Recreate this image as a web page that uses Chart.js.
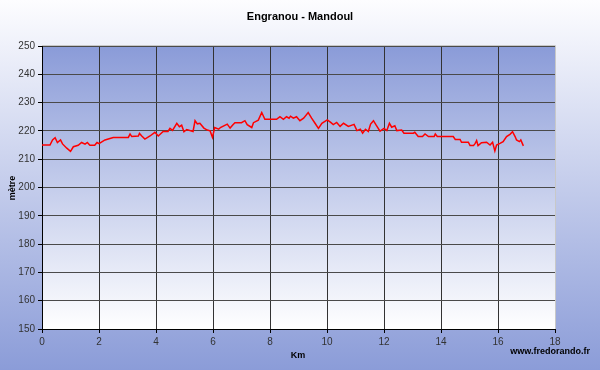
<!DOCTYPE html>
<html>
<head>
<meta charset="utf-8">
<script src="https://cdn.jsdelivr.net/npm/chart.js@4"></script>
<style>
html,body{margin:0;padding:0;background:#fff;}
#wrap{width:600px;height:370px;position:relative;}
</style>
</head>
<body>
<div id="wrap"><canvas id="c" width="600" height="370"></canvas></div>
<script>
const chartTitle = "Engranou - Mandoul";
const xAxisTitle = "Km";
const yAxisTitle = "mètre";
const watermark = "www.fredorando.fr";

const km = [0,0.28,0.37,0.46,0.54,0.65,0.72,0.87,1.0,1.1,1.27,1.39,1.51,1.59,1.68,1.85,1.93,2.0,2.21,2.5,3.03,3.09,3.15,3.38,3.42,3.5,3.61,3.79,3.96,4.08,4.25,4.42,4.49,4.58,4.73,4.82,4.9,4.98,5.08,5.3,5.37,5.45,5.54,5.68,5.8,5.9,5.98,6.06,6.2,6.26,6.5,6.6,6.7,6.77,7.0,7.12,7.2,7.36,7.42,7.59,7.71,7.82,8.23,8.35,8.47,8.58,8.67,8.72,8.82,8.93,9.05,9.18,9.34,9.46,9.58,9.7,9.82,10.01,10.13,10.22,10.34,10.46,10.58,10.75,10.95,11.05,11.17,11.25,11.35,11.45,11.53,11.63,11.72,11.86,12.0,12.1,12.19,12.27,12.38,12.45,12.62,12.7,13.03,13.08,13.2,13.35,13.44,13.56,13.76,13.8,13.87,14.43,14.5,14.67,14.72,14.96,15.02,15.14,15.2,15.25,15.3,15.42,15.6,15.72,15.81,15.89,15.95,16.07,16.18,16.3,16.42,16.51,16.6,16.65,16.75,16.8,16.89];
const elevation = [215,215,216.8,217.6,215.9,216.8,215.4,213.9,212.8,214.4,214.9,215.9,215.3,215.9,214.9,214.9,215.9,215.5,216.8,217.7,217.7,218.9,218,218.2,219.1,218.2,217.1,218.2,219.5,218.2,219.8,219.8,220.9,220.2,222.7,221.5,222,219.7,220.5,219.8,223.6,222.5,222.7,221,220.3,220,217.7,221.2,220.6,221.2,222.4,221,222.2,222.9,222.9,223.6,222.2,221.2,222.9,223.8,226.5,224.1,224.1,225,224.1,225,224.5,225.2,224.5,225,223.6,224.5,226.5,224.5,222.7,220.9,222.7,223.9,223,222.2,223,221.6,222.7,221.6,222.3,220.1,220.6,219.2,220.6,219.8,222.4,223.6,222.1,219.9,220.9,220.1,222.7,221.3,221.8,220.1,220.3,219.2,219.2,219.5,218,218,218.9,218,218,218.9,218,218,217,217,216,216,214.8,214.8,215.6,216.6,214.8,215.8,216,215,216,212.9,215,215.6,216.2,218,218.8,219.7,218,216.8,216.2,216.8,214.7];

const yMin = 150, yMax = 250, yStep = 10;
const xMin = 0, xMax = 18, xStep = 2;

const points = km.map((k, i) => ({x: k, y: elevation[i]}));

const bgPlugin = {
  id: 'bg',
  beforeDraw(chart) {
    const ctx = chart.ctx, a = chart.chartArea;
    ctx.save();
    let g = ctx.createLinearGradient(0, 0, 0, chart.height);
    g.addColorStop(0, '#fdfdff');
    g.addColorStop(1, '#8b9cd8');
    ctx.fillStyle = g;
    ctx.fillRect(0, 0, chart.width, chart.height);
    g = ctx.createLinearGradient(0, a.top, 0, a.bottom);
    g.addColorStop(0, '#8a9bd8');
    g.addColorStop(1, '#ffffff');
    ctx.fillStyle = g;
    ctx.fillRect(a.left, a.top, a.right - a.left, a.bottom - a.top);
    ctx.restore();
  },
  afterDraw(chart) {
    const ctx = chart.ctx, a = chart.chartArea;
    ctx.save();
    ctx.fillStyle = '#000';
    ctx.textAlign = 'center';
    ctx.textBaseline = 'middle';
    ctx.font = 'bold 11px "Liberation Sans", Arial, sans-serif';
    ctx.fillText(chartTitle, 300, 17);
    ctx.font = 'bold 9px "Liberation Sans", Arial, sans-serif';
    ctx.fillText(xAxisTitle, 298, 356);
    ctx.textAlign = 'right';
    ctx.fillText(watermark, 590, 352);
    ctx.translate(13, 188);
    ctx.rotate(-Math.PI / 2);
    ctx.textAlign = 'center';
    ctx.fillText(yAxisTitle, 0, 0);
    ctx.restore();
    ctx.save();
    ctx.strokeStyle = '#c8c8c8';
    ctx.lineWidth = 1;
    ctx.beginPath();
    ctx.moveTo(a.left, a.top - 0.5);
    ctx.lineTo(a.right + 0.5, a.top - 0.5);
    ctx.lineTo(a.right + 0.5, a.bottom);
    ctx.stroke();
    ctx.restore();
  }
};

new Chart(document.getElementById('c'), {
  type: 'scatter',
  data: {
    datasets: [{
      data: points,
      showLine: true,
      borderColor: '#ff0000',
      borderWidth: 1.5,
      pointRadius: 0,
      tension: 0,
      fill: false
    }]
  },
  options: {
    responsive: false,
    animation: false,
    events: [],
    layout: {padding: {top: 46, right: 45, left: 0, bottom: 0}},
    plugins: {legend: {display: false}, tooltip: {enabled: false}, title: {display: false}},
    scales: {
      x: {
        type: 'linear', min: xMin, max: xMax,
        ticks: {stepSize: xStep, color: '#333', font: {size: 10, family: '"Liberation Sans", Arial, sans-serif'}, padding: 3, maxRotation: 0},
        grid: {color: '#333', lineWidth: 1, tickLength: 4, drawOnChartArea: true, tickColor: '#000'},
        border: {color: '#000', width: 1},
        afterFit(s) { s.height = 41; }
      },
      y: {
        type: 'linear', min: yMin, max: yMax,
        ticks: {stepSize: yStep, color: '#333', font: {size: 10, family: '"Liberation Sans", Arial, sans-serif'}, padding: 3},
        grid: {color: '#4a4a4a', lineWidth: 1, tickLength: 4, tickColor: '#000'},
        border: {color: '#000', width: 1},
        afterFit(s) { s.width = 42; }
      }
    }
  },
  plugins: [bgPlugin]
});
</script>
</body>
</html>
